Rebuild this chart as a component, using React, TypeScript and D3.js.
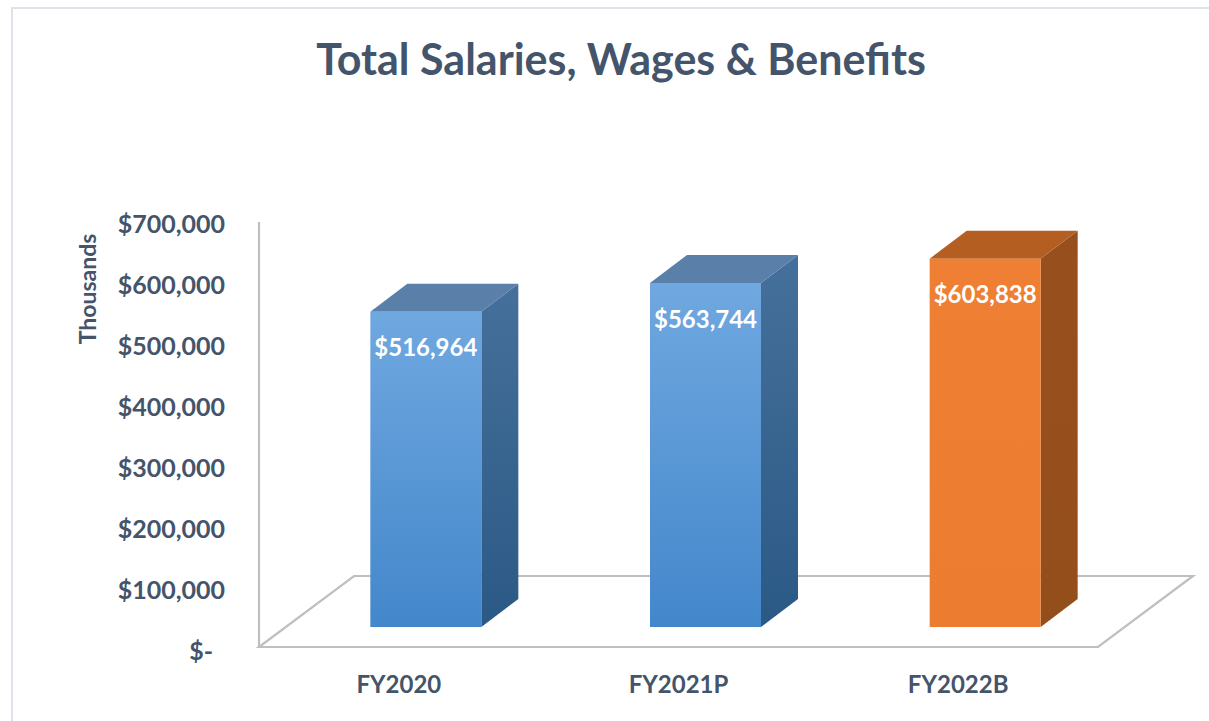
import React from "react";
import * as d3 from "d3";

const categories = ["FY2020", "FY2021P", "FY2022B"];
const values = [516964, 563744, 603838];
const labels = ["$516,964", "$563,744", "$603,838"];
const tickValues = [0, 100000, 200000, 300000, 400000, 500000, 600000, 700000];
const tickLabels = ["$-", "$100,000", "$200,000", "$300,000", "$400,000", "$500,000", "$600,000", "$700,000"];
const barColorKeys = ["blue", "blue", "orange"];

const W = 1209;
const H = 721;
const FONT = "Lato, 'Open Sans', sans-serif";
const TEXT = "#44546A";

export default function App() {
  const y = d3.scaleLinear().domain([0, 700000]).range([651, 224]);
  const floorY = 647;
  const x = d3.scaleBand<string>().domain(categories).range([259, 1098]).padding(0);
  const floorDepth = { dx: 95, dy: -71 };
  const barShift = { dx: 27, dy: -20 };
  const barDepth = { dx: 37, dy: -28 };
  const barW = 111;
  const barBase = floorY + barShift.dy;

  const [x0, x1] = x.range();
  const floorPts = [
    [x0, floorY],
    [x1, floorY],
    [x1 + floorDepth.dx, floorY + floorDepth.dy],
    [x0 + floorDepth.dx, floorY + floorDepth.dy],
  ];
  const line = d3.line();

  return (
    <svg width={W} height={H} style={{ position: "absolute", left: 0, top: 0, display: "block", background: "#fff" }}>
      <defs>
        <linearGradient id="blueFront" x1="0" y1="0" x2="0" y2="1">
          <stop offset="0" stopColor="#70A8E0" />
          <stop offset="1" stopColor="#4387CB" />
        </linearGradient>
        <linearGradient id="blueSide" x1="0" y1="0" x2="0" y2="1">
          <stop offset="0" stopColor="#45709B" />
          <stop offset="1" stopColor="#2B5985" />
        </linearGradient>
        <linearGradient id="orangeFront" x1="0" y1="0" x2="0" y2="1">
          <stop offset="0" stopColor="#EE7F33" />
          <stop offset="1" stopColor="#EC7C30" />
        </linearGradient>
        <linearGradient id="orangeSide" x1="0" y1="0" x2="0" y2="1">
          <stop offset="0" stopColor="#974F1D" />
          <stop offset="1" stopColor="#944E1C" />
        </linearGradient>
      </defs>
      <rect x={12} y={8} width={W} height={H} fill="#fff" stroke="#DEE3EA" strokeWidth={2} />
      <text x={621} y={75} textAnchor="middle" fontFamily={FONT} fontWeight={700} fontSize={43} fill={TEXT}>
        Total Salaries, Wages &amp; Benefits
      </text>
      <text
        transform={`translate(96,289) rotate(-90)`}
        textAnchor="middle"
        fontFamily={FONT}
        fontWeight={700}
        fontSize={23}
        fill={TEXT}
      >
        Thousands
      </text>
      {tickValues.map((v, i) => (
        <text
          key={v}
          x={v === 0 ? 213 : 225}
          y={y(v)}
          dy="0.35em"
          textAnchor="end"
          fontFamily={FONT}
          fontWeight={700}
          fontSize={25}
          fill={TEXT}
        >
          {tickLabels[i]}
        </text>
      ))}
      <path d={line([[x0, 222], [x0, floorY]] as any) || ""} stroke="#BFBFBF" strokeWidth={2.2} fill="none" />
      <path d={(line(floorPts as any) || "") + "Z"} stroke="#BFBFBF" strokeWidth={2.2} fill="none" />
      {categories.map((c, i) => {
        const cx = (x(c) as number) + x.bandwidth() / 2 + barShift.dx;
        const left = cx - barW / 2;
        const right = cx + barW / 2;
        const top = barBase - (y(0) - y(values[i]));
        const key = barColorKeys[i];
        const topFill = key === "blue" ? "#5A7FA8" : "#B45E22";
        const front: [number, number][] = [[left, barBase], [right, barBase], [right, top], [left, top]];
        const side: [number, number][] = [
          [right, barBase],
          [right + barDepth.dx, barBase + barDepth.dy],
          [right + barDepth.dx, top + barDepth.dy],
          [right, top],
        ];
        const topFace: [number, number][] = [
          [left, top],
          [right, top],
          [right + barDepth.dx, top + barDepth.dy],
          [left + barDepth.dx, top + barDepth.dy],
        ];
        return (
          <g key={c}>
            <path d={(line(side) || "") + "Z"} fill={`url(#${key}Side)`} />
            <path d={(line(topFace) || "") + "Z"} fill={topFill} />
            <path d={(line(front) || "") + "Z"} fill={`url(#${key}Front)`} />
            <text
              x={cx}
              y={top + 36}
              dy="0.35em"
              textAnchor="middle"
              fontFamily={FONT}
              fontWeight={700}
              fontSize={24}
              fill="#FFFFFF"
            >
              {labels[i]}
            </text>
          </g>
        );
      })}
      {categories.map((c) => (
        <text
          key={c}
          x={(x(c) as number) + x.bandwidth() / 2}
          y={693}
          textAnchor="middle"
          fontFamily={FONT}
          fontWeight={700}
          fontSize={24}
          fill={TEXT}
        >
          {c}
        </text>
      ))}
    </svg>
  );
}
